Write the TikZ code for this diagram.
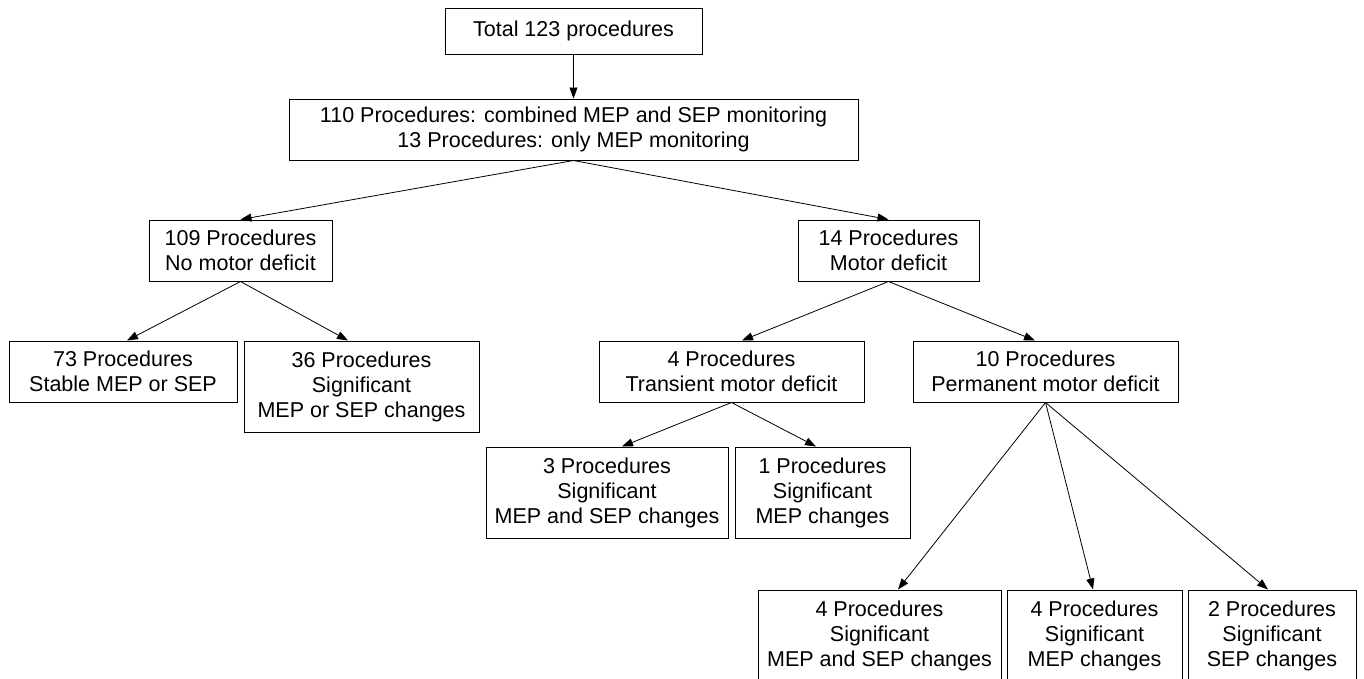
\documentclass[tikz,border=0pt]{standalone}
\usepackage{fontspec}
\setmainfont{Liberation Sans}
\usetikzlibrary{arrows.meta}

\begin{document}
\begin{tikzpicture}[x=1pt, y=-1pt, ->, >={Triangle[length=11pt, width=8pt]}, line width=0.8pt]
    \tikzstyle{box}=[draw=black, line width=1pt, align=center, inner sep=0pt, font=\fontsize{21.5}{25}\selectfont]
\useasboundingbox (0,0) rectangle (1364,678);

\node[box, minimum width=257pt, minimum height=46pt] (total) at (573.5, 31)    {Total 123 procedures};
\node[box, minimum width=569pt, minimum height=61pt] (mon) at (573.5, 129.5)   {110 Procedures: combined MEP and SEP monitoring\\13 Procedures: only MEP monitoring};
\node[box, minimum width=183pt, minimum height=61pt] (nodef) at (240.5, 250.5) {109 Procedures\\No motor deficit};
\node[box, minimum width=181pt, minimum height=61pt] (def) at (888.5, 250.5)   {14 Procedures\\Motor deficit};
\node[box, minimum width=228pt, minimum height=61pt] (stable) at (123, 371.5)  {73 Procedures\\Stable MEP or SEP};
\node[box, minimum width=235pt, minimum height=91pt] (sigchg) at (361.5, 386.5) {36 Procedures\\Significant\\MEP or SEP changes};
\node[box, minimum width=265pt, minimum height=61pt] (trans) at (731.5, 371.5) {4 Procedures\\Transient motor deficit};
\node[box, minimum width=265pt, minimum height=61pt] (perm) at (1045.5, 371.5) {10 Procedures\\Permanent motor deficit};
\node[box, minimum width=242pt, minimum height=91pt] (transboth) at (607, 492.5) {3 Procedures\\Significant\\MEP and SEP changes};
\node[box, minimum width=175pt, minimum height=91pt] (transmep) at (822.5, 492.5) {1 Procedures\\Significant\\MEP changes};
\node[box, minimum width=243pt, minimum height=91pt] (permboth) at (879.5, 635.5) {4 Procedures\\Significant\\MEP and SEP changes};
\node[box, minimum width=175pt, minimum height=91pt] (permmep) at (1094.5, 635.5) {4 Procedures\\Significant\\MEP changes};
\node[box, minimum width=168pt, minimum height=91pt] (permsep) at (1272, 635.5) {2 Procedures\\Significant\\SEP changes};

\path
(total.south) edge (mon.north)
(mon.south) edge (nodef.north)
            edge (def.north)
(nodef.south) edge ([xshift=4pt]stable.north)
              edge ([xshift=-13.5pt]sigchg.north)
(def.south) edge ([xshift=10.5pt]trans.north)
            edge ([xshift=-10.5pt]perm.north)
(trans.south) edge ([xshift=15pt]transboth.north)
              edge ([xshift=-6.5pt]transmep.north)
(perm.south) edge ([xshift=18.5pt]permboth.north)
             edge ([xshift=-1.5pt]permmep.north)
             edge ([xshift=-4pt]permsep.north);
\end{tikzpicture}
\end{document}
